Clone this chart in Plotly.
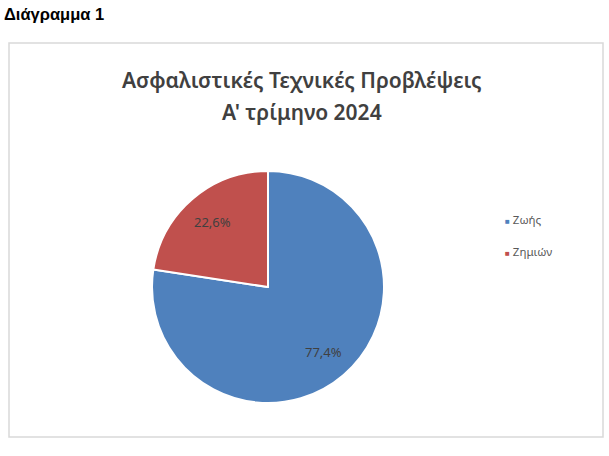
import math
import plotly.graph_objects as go

# data
categories = ["Ζωής", "Ζημιών"]
shares = [77.4, 22.6]
colors = ["#4F81BD", "#C0504D"]
labels_txt = [("%.1f%%" % v).replace(".", ",") for v in shares]

W, H = 609, 456
cx, cy, R = 268, 287, 116   # pie centre / radius in px

pie = go.Pie(
    labels=categories,
    values=shares,
    textinfo="none",
    hovertemplate="%{label}: %{text}<extra></extra>",
    text=labels_txt,
    marker=dict(colors=colors, line=dict(color="white", width=2)),
    sort=False,
    direction="clockwise",
    rotation=0,
    showlegend=False,
    domain=dict(x=[(cx - R) / W, (cx + R) / W], y=[1 - (cy + R) / H, 1 - (cy - R) / H]),
)

fig = go.Figure(data=[pie])

annots = [
    dict(text="<b>Διάγραμμα 1</b>", x=2 / W, y=1 - 14 / H, xref="paper", yref="paper",
         xanchor="left", yanchor="middle", showarrow=False,
         font=dict(family="Liberation Sans", size=16.5, color="black")),
    dict(text="Ασφαλιστικές Τεχνικές Προβλέψεις", x=302 / W, y=1 - 80 / H,
         xref="paper", yref="paper", xanchor="center", yanchor="middle", showarrow=False,
         font=dict(family="Noto Sans", size=21, color="#404040", weight=600)),
    dict(text="Α' τρίμηνο 2024", x=302 / W, y=1 - 112 / H,
         xref="paper", yref="paper", xanchor="center", yanchor="middle", showarrow=False,
         font=dict(family="Noto Sans", size=21, color="#404040", weight=600)),
]

# slice labels at 0.75 R along each slice's mid angle
total = sum(shares)
start = 0.0
for v, t in zip(shares, labels_txt):
    mid = (start + v / 2) / total * 2 * math.pi
    start += v
    px = cx + 0.74 * R * math.sin(mid)
    py = cy - 0.74 * R * math.cos(mid)
    annots.append(dict(text=t, x=px / W, y=1 - py / H, xref="paper", yref="paper",
                       showarrow=False, xanchor="center", yanchor="middle",
                       font=dict(family="Noto Sans", size=13, color="#404040")))

# legend drawn as text entries
for i, (c, col) in enumerate(zip(categories, colors)):
    annots.append(dict(text="<span style='color:%s;font-size:8px'>■</span> %s" % (col, c),
                       x=503 / W, y=1 - (219 + 32 * i) / H, xref="paper", yref="paper",
                       xanchor="left", yanchor="middle", showarrow=False,
                       font=dict(family="Noto Sans", size=11.5, color="#595959")))

fig.update_layout(
    width=W, height=H,
    margin=dict(l=0, r=0, t=0, b=0),
    paper_bgcolor="white",
    shapes=[dict(type="rect", xref="paper", yref="paper",
                 x0=9 / W, x1=603 / W, y0=1 - 437 / H, y1=1 - 43 / H,
                 line=dict(color="#D9D9D9", width=1.5))],
    annotations=annots,
)

fig.write_html("out.html", config={"displayModeBar": False},
               post_script="document.body.style.margin='0';")
